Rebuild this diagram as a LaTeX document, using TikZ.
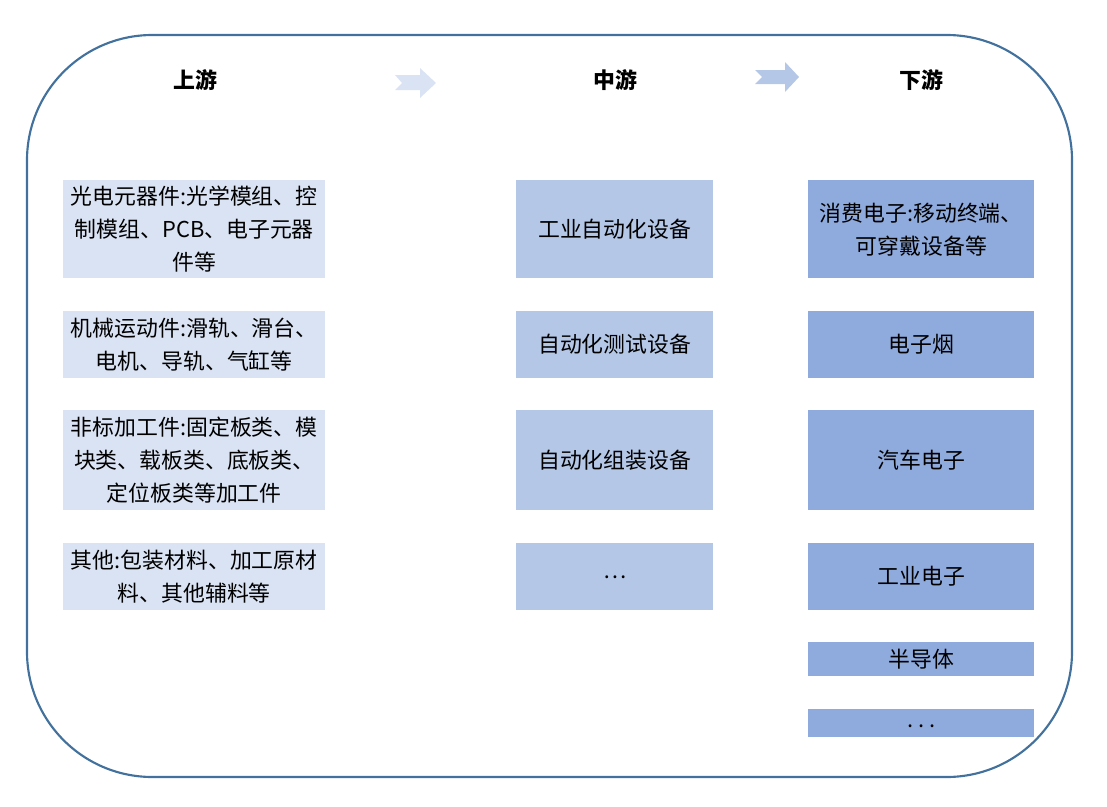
\documentclass[tikz,border=0pt]{standalone}
\usepackage{fontspec}
\newfontfamily\cjk{Noto Sans CJK SC}
\usetikzlibrary{positioning}

\definecolor{frameblue}{HTML}{41719C}
\definecolor{upfill}{HTML}{DAE3F3}
\definecolor{midfill}{HTML}{B4C7E7}
\definecolor{downfill}{HTML}{8FAADC}

\tikzset{
  cell/.style={inner sep=0pt, align=center, font=\cjk\fontsize{16.4}{24.75}\selectfont, text=black},
  upbox/.style={cell, fill=upfill, minimum width=196.5pt},
  midbox/.style={cell, fill=midfill, minimum width=147.75pt},
  downbox/.style={cell, fill=downfill, minimum width=169.5pt},
  head/.style={font=\cjk\bfseries\fontsize{16.4}{20}\selectfont},
  tall/.style={minimum height=73.5pt},
  mid/.style={minimum height=50.25pt},
  taller/.style={minimum height=75pt},
}

\begin{document}
\begin{tikzpicture}[x=0.75pt,y=-0.75pt,node distance=24pt]
\useasboundingbox (0,0) rectangle (1107,807);

% frame
\draw[frameblue, line width=1.6pt, rounded corners=94pt] (27,35) rectangle (1072,777);

% headings
\node[head] (hup)   at (195,80) {上游};
\node[head] (hmid)  at (615,80) {中游};
\node[head] (hdown) at (921,80) {下游};

% arrows
\fill[upfill] (395,75) -- (420,75) -- (420,68) -- (436,83) -- (420,98) -- (420,90) -- (395,90) -- (402,83) -- cycle;
\fill[midfill] (755,70) -- (785,70) -- (785,62) -- (799,77) -- (785,92) -- (785,84) -- (755,84) -- (762,77) -- cycle;

% upstream
\node[upbox,tall,anchor=north west] (up1) at (63,180) {光电元器件:光学模组、控\\制模组、PCB、电子元器\\件等};
\node[upbox,mid]    (up2) [below=of up1] {机械运动件:滑轨、滑台、\\电机、导轨、气缸等};
\node[upbox,taller] (up3) [below=of up2] {非标加工件:固定板类、模\\块类、载板类、底板类、\\定位板类等加工件};
\node[upbox,mid]    (up4) [below=of up3] {其他:包装材料、加工原材\\料、其他辅料等};

% midstream
\node[midbox,tall,anchor=north west] (mid1) at (516,180) {工业自动化设备};
\node[midbox,mid]    (mid2) [below=of mid1] {自动化测试设备};
\node[midbox,taller] (mid3) [below=of mid2] {自动化组装设备};
\node[midbox,mid]    (mid4) [below=of mid3] {\raisebox{-3pt}{…}};

% downstream
\node[downbox,tall,anchor=north west] (down1) at (808,180) {消费电子:移动终端、\\可穿戴设备等};
\node[downbox,mid]    (down2) [below=of down1] {电子烟};
\node[downbox,taller] (down3) [below=of down2] {汽车电子};
\node[downbox,mid]    (down4) [below=of down3] {工业电子};
\node[downbox,minimum height=25.5pt] (down5) [below=of down4] {半导体};
\node[downbox,minimum height=21pt]   (down6) [below=of down5] {\raisebox{-7pt}{.\ .\ .}};
\end{tikzpicture}
\end{document}
